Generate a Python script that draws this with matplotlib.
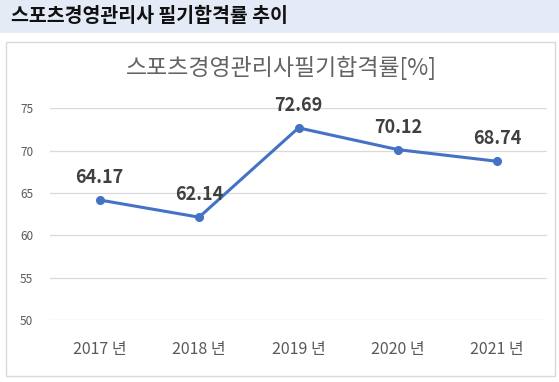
import matplotlib
matplotlib.use("Agg")
import matplotlib.pyplot as plt
from matplotlib.patches import Rectangle

plt.rcParams['font.family'] = ['Noto Sans CJK KR', 'DejaVu Sans']

categories = ["2017 년", "2018 년", "2019 년", "2020 년", "2021 년"]
rates = [64.17, 62.14, 72.69, 70.12, 68.74]
yticks = [50, 55, 60, 65, 70, 75]
header = "스포츠경영관리사 필기합격률 추이"
chart_title = "스포츠경영관리사필기합격률[%]"

W, H = 559, 382
fig = plt.figure(figsize=(W / 100, H / 100), dpi=100)

def fx(px):
    return px / W

def fy(py):
    return 1 - py / H

# header band
fig.patches.append(Rectangle((0, fy(33)), 1, 33 / H, transform=fig.transFigure,
                             facecolor="#E4EAF6", edgecolor="none", zorder=-2))
fig.text(fx(11), fy(16.5), header, fontsize=14, fontweight="bold",
         color="#111111", ha="left", va="center")

# chart box border
fig.patches.append(Rectangle((fx(6), fy(376)), fx(555) - fx(6), fy(42) - fy(376),
                             transform=fig.transFigure, facecolor="white",
                             edgecolor="#D9D9D9", linewidth=1.0, zorder=-2))

fig.text(fx(281), fy(68), chart_title, fontsize=16.5, color="#636363",
         ha="center", va="center")

ax = fig.add_axes([fx(50), fy(320), fx(547) - fx(50), fy(108.3) - fy(320)])
ax.set_zorder(2)
ax.set_facecolor("none")
x = list(range(len(categories)))
ax.plot(x, rates, color="#4472C4", linewidth=2.2, marker="o", markersize=5.5,
        solid_capstyle="round", zorder=3)
for xi, v in zip(x, rates):
    ax.annotate(f"{v:.2f}", (xi, v), xytext=(0, 13), textcoords="offset pixels",
                ha="center", va="bottom", fontsize=13, fontweight="bold",
                color="#404040")

ax.set_xlim(-0.5, len(categories) - 0.5)
ax.set_ylim(50, 75)
ax.set_yticks(yticks)
ax.set_yticklabels([str(t) for t in yticks])
ax.set_xticks(x)
ax.set_xticklabels(categories)
ax.grid(axis="y", color="#D9D9D9", linewidth=0.9)
ax.set_axisbelow(True)
for s in ax.spines.values():
    s.set_visible(False)
ax.tick_params(axis="y", length=0, pad=12, labelsize=8.5, labelcolor="#595959")
ax.tick_params(axis="x", length=0, pad=15, labelsize=11.5, labelcolor="#595959")

fig.savefig("out.png", dpi=100)
